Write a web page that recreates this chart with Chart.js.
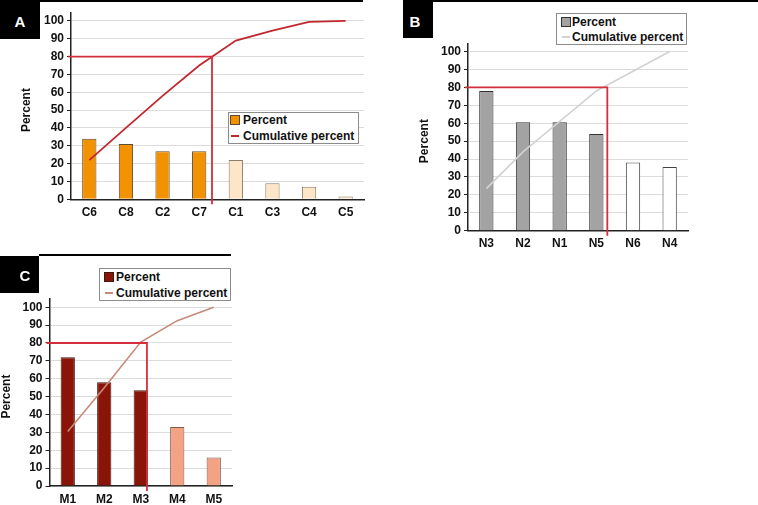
<!DOCTYPE html>
<html>
<head>
<meta charset="utf-8">
<script src="https://cdn.jsdelivr.net/npm/chart.js@4.4.1/dist/chart.umd.min.js"></script>
<style>
  body { margin: 0; background: #fff; font-family: "Liberation Sans", Arial, sans-serif; }
  #page { position: relative; width: 758px; height: 505px; overflow: hidden; }
  .panel { position: absolute; }
  .tag { position: absolute; background: #000; z-index: 2; }
  .tag span { position: absolute; color: #fff; font-weight: bold; font-size: 15px; line-height: 15px;
              transform: translate(-50%, -50%); }
  .rule { position: absolute; height: 2px; background: #000; z-index: 2; }
  .legend { position: absolute; box-sizing: border-box; border: 1px solid #8c8c8c; background: #fff;
            font-weight: bold; font-size: 12px; color: #111; z-index: 2; }
  .legend .row { position: absolute; height: 14px; line-height: 14px; white-space: nowrap; }
  .legend .sw { position: absolute; box-sizing: border-box; }
</style>
</head>
<body>
<div id="page">
  <canvas id="chartA" class="panel" width="372" height="226" style="left:0;top:0"></canvas>
  <canvas id="chartB" class="panel" width="300" height="252" style="left:398px;top:0"></canvas>
  <canvas id="chartC" class="panel" width="240" height="247" style="left:0;top:258px"></canvas>

  <div class="tag" style="left:0;top:0;width:40px;height:39px"><span style="left:20px;top:21px">A</span></div>
  <div class="rule" style="left:40px;top:0;width:323px"></div>
  <div class="tag" style="left:403px;top:0;width:30px;height:38px"><span style="left:12px;top:21px">B</span></div>
  <div class="rule" style="left:433px;top:0;width:325px"></div>
  <div class="tag" style="left:0;top:256px;width:39px;height:37px"><span style="left:25px;top:19px">C</span></div>
  <div class="rule" style="left:39px;top:254px;width:192px"></div>

  <div id="legA" class="legend" style="left:228px;top:112px;width:131px;height:32px"></div>
  <div id="legB" class="legend" style="left:556px;top:13px;width:131px;height:32px"></div>
  <div id="legC" class="legend" style="left:99px;top:268px;width:132px;height:33px"></div>
</div>

<script>
// ── Data ─────────────────────────────────────────────────────────────────────
const catsA = ['C6', 'C8', 'C2', 'C7', 'C1', 'C3', 'C4', 'C5'];
const pctA  = [34, 31, 27, 27, 22, 9, 7, 1.5];
const cumA  = [22, 40, 58, 75, 89, 94.5, 99.5, 100];
const keyA  = 4;      // categories inside the 80 % cut
const cutA  = 3.35;   // where the cumulative line meets 80 (category index)

const catsB = ['N3', 'N2', 'N1', 'N5', 'N6', 'N4'];
const pctB  = [78, 60.5, 60.5, 54, 38, 35.5];
const cumB  = [23.5, 44, 61, 78, 89, 100];
const keyB  = 4;
const cutB  = 3.3;

const catsC = ['M1', 'M2', 'M3', 'M4', 'M5'];
const pctC  = [72, 58, 53.5, 33, 16];
const cumC  = [30.5, 55, 80.5, 92.5, 100];
const keyC  = 3;
const cutC  = 2.17;

const yTicks    = [0, 10, 20, 30, 40, 50, 60, 70, 80, 90, 100];
const threshold = 80;
const yTitle    = 'Percent';
const barLabel  = 'Percent';
const lineLabel = 'Cumulative percent';

// ── Cut-off lines + axis title ───────────────────────────────────────────────
const cutLines = {
  id: 'cutLines',
  afterDatasetsDraw(chart, args, opts) {
    const { ctx, chartArea: a, scales: { x, y } } = chart;
    const px = x.getPixelForValue(opts.at);
    const py = y.getPixelForValue(threshold);
    ctx.save();
    ctx.strokeStyle = '#d42e3c';
    ctx.lineWidth = 1.8;
    ctx.beginPath();
    ctx.moveTo(a.left - 3, py);
    ctx.lineTo(px, py);
    ctx.lineTo(px, a.bottom + 5);
    ctx.stroke();

    const cy = (y.getPixelForValue(0) + y.getPixelForValue(100)) / 2;
    ctx.translate(opts.titleX, cy);
    ctx.rotate(-Math.PI / 2);
    ctx.font = 'bold 12px "Liberation Sans", Arial, sans-serif';
    ctx.fillStyle = '#111';
    ctx.textAlign = 'center';
    ctx.textBaseline = 'middle';
    ctx.fillText(yTitle, 0, 0);
    ctx.restore();
  }
};

const tickFont = { family: '"Liberation Sans", Arial, sans-serif', size: 12, weight: 'bold' };

function pareto(id, cats, pct, cum, key, cut, look, box) {
  return new Chart(document.getElementById(id), {
    type: 'bar',
    data: {
      labels: cats,
      datasets: [{
        type: 'line',
        label: lineLabel,
        data: cum,
        borderColor: look.line,
        borderWidth: look.lineWidth,
        pointRadius: 0,
        tension: 0,
        fill: false,
        order: 0
      }, {
        label: barLabel,
        data: pct,
        backgroundColor: pct.map((v, i) => i < key ? look.main : look.rest),
        borderColor: pct.map((v, i) => i < key ? look.mainEdge : look.restEdge),
        borderWidth: 1,
        categoryPercentage: 1,
        barPercentage: 0.39,
        order: 1
      }]
    },
    options: {
      responsive: false,
      animation: false,
      layout: { padding: { top: box.top, right: box.right, left: 0, bottom: 0 } },
      scales: {
        x: {
          offset: true,
          grid: { display: false, drawTicks: false },
          border: { display: true, color: '#222', width: 1.5 },
          ticks: { color: '#111', font: tickFont, padding: 6, maxRotation: 0 },
          afterFit: s => { s.height = box.xh; }
        },
        y: {
          min: 0,
          max: 104.6,
          afterBuildTicks: s => { s.ticks = yTicks.map(v => ({ value: v })); },
          grid: { color: '#dcdcdc', lineWidth: 1, tickColor: '#222', tickLength: 4 },
          border: { display: true, color: '#222', width: 1.5 },
          ticks: { color: '#111', font: tickFont, padding: 3 },
          afterFit: s => { s.width = box.yw; }
        }
      },
      plugins: {
        legend: { display: false },
        tooltip: { enabled: false },
        cutLines: { at: cut, titleX: box.titleX }
      }
    },
    plugins: [cutLines]
  });
}

// ── HTML legends built from the datasets ─────────────────────────────────────
function legend(id, chart, rows) {
  const el = document.getElementById(id);
  const [line, bar] = chart.data.datasets;
  const items = [
    { text: bar.label, kind: 'bar', color: bar.backgroundColor[0], edge: bar.borderColor[0] },
    { text: line.label, kind: 'line', color: line.borderColor }
  ];
  items.forEach((it, i) => {
    const r = document.createElement('div');
    r.className = 'row';
    r.style.top = (rows.y[i] - 7) + 'px';
    r.style.left = rows.text + 'px';
    r.textContent = it.text;
    el.appendChild(r);
    const sw = document.createElement('div');
    sw.className = 'sw';
    if (it.kind === 'bar') {
      Object.assign(sw.style, { left: rows.sw + 'px', top: (rows.y[i] - 5) + 'px', width: '10px', height: '10px',
        background: it.color, border: '1px solid ' + it.edge });
    } else {
      Object.assign(sw.style, { left: (rows.sw + 1) + 'px', top: (rows.y[i] - 1) + 'px', width: '8px', height: '2px',
        background: it.color });
    }
    el.appendChild(sw);
  });
}

const chartA = pareto('chartA', catsA, pctA, cumA, keyA, cutA,
  { main: '#f39200', mainEdge: '#5e4a32', rest: '#fde5c8', restEdge: '#8a7c6a', line: '#c0282e', lineWidth: 1.8 },
  { top: 12.7, right: 8, yw: 71, xh: 26.7, titleX: 26.7 });

const chartB = pareto('chartB', catsB, pctB, cumB, keyB, cutB,
  { main: '#a3a3a3', mainEdge: '#333', rest: '#ffffff', restEdge: '#444', line: '#d2d2d2', lineWidth: 1.6 },
  { top: 43.3, right: 10, yw: 70, xh: 21.3, titleX: 27 });

const chartC = pareto('chartC', catsC, pctC, cumC, keyC, cutC,
  { main: '#8b1408', mainEdge: '#3a1a10', rest: '#f4a284', restEdge: '#7a5a50', line: '#c88a78', lineWidth: 1.6 },
  { top: 41, right: 8, yw: 49.5, xh: 19, titleX: 7 });

legend('legA', chartA, { sw: 1, text: 14, y: [7, 22.5] });
legend('legB', chartB, { sw: 4, text: 15, y: [7.5, 22.5] });
legend('legC', chartC, { sw: 4, text: 16, y: [8, 23.5] });
</script>
</body>
</html>
